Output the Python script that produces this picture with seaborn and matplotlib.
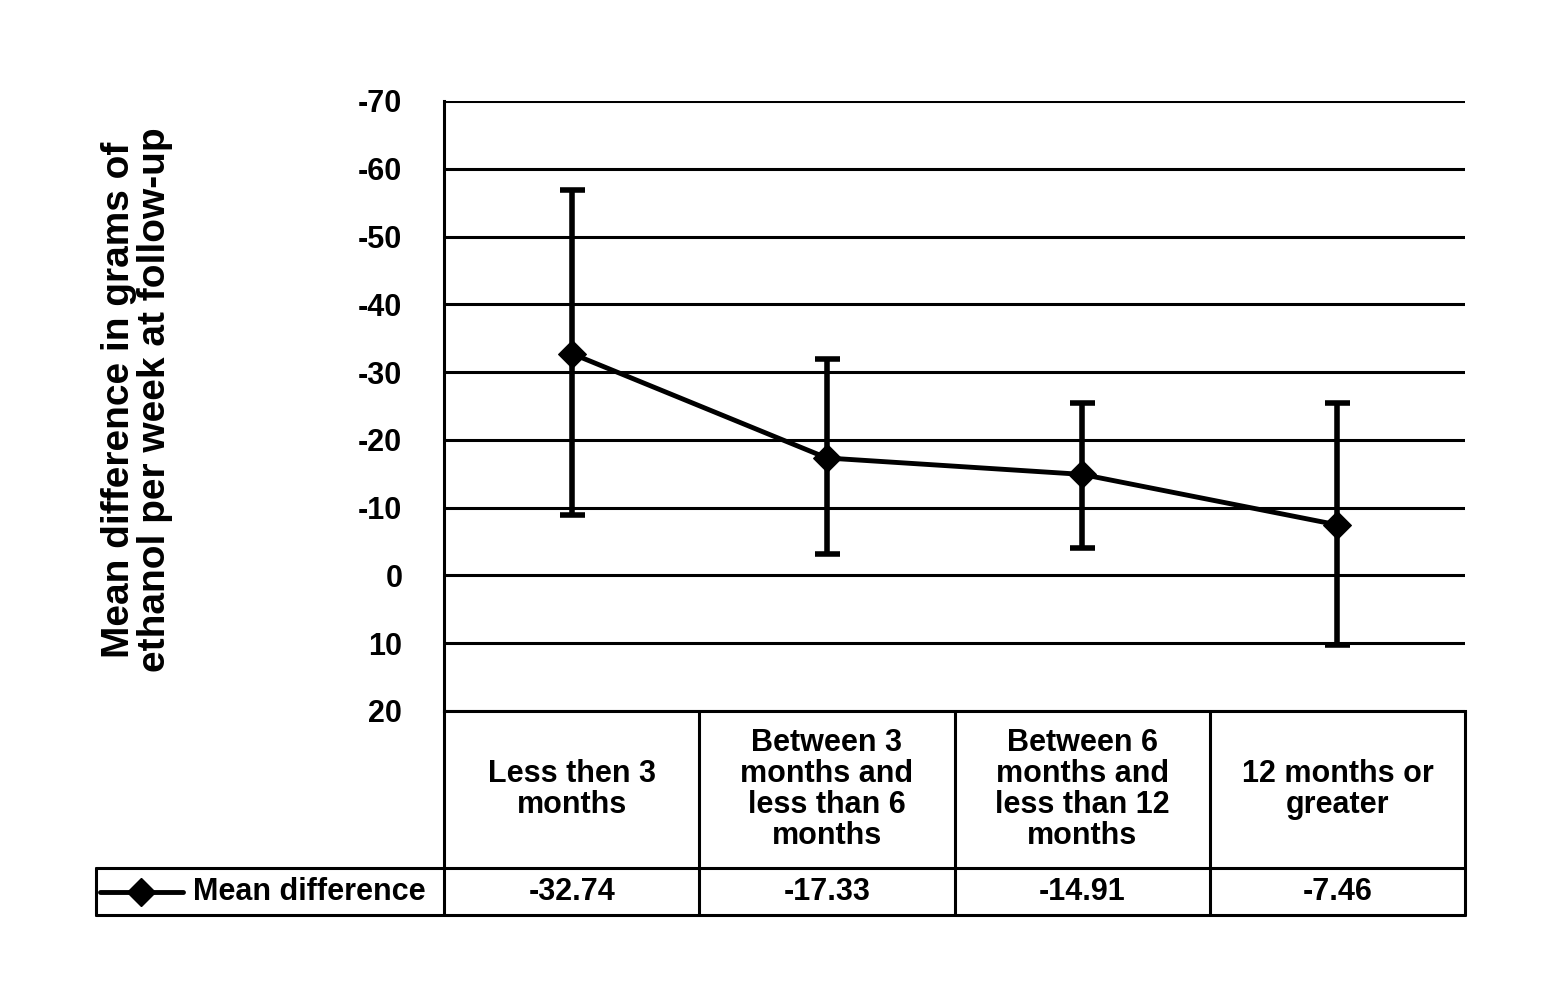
import numpy as np
import matplotlib
matplotlib.use('Agg')
import matplotlib.pyplot as plt
import matplotlib.transforms as mtransforms
import seaborn as sns

categories = ['Less then 3\nmonths',
              'Between 3\nmonths and\nless than 6\nmonths',
              'Between 6\nmonths and\nless than 12\nmonths',
              '12 months or\ngreater']
means = [-32.74, -17.33, -14.91, -7.46]
value_labels = ['-32.74', '-17.33', '-14.91', '-7.46']
ci_upper = [-56.9, -31.9, -25.5, -25.5]   # most negative end (top of bar)
ci_lower = [-8.85, -3.2, -4.0, 10.3]      # least negative end (bottom of bar)
series_name = 'Mean difference'
ylabel = 'Mean difference in grams of\nethanol per week at follow-up'
yticks = list(range(-70, 21, 10))

sns.set_style('white')
plt.rcParams['font.family'] = ['Liberation Sans', 'DejaVu Sans']
plt.rcParams['font.weight'] = 'bold'
plt.rcParams['text.color'] = 'black'
plt.rcParams['ytick.color'] = 'black'
plt.rcParams['axes.labelcolor'] = 'black'

fig = plt.figure(figsize=(15.63, 10), dpi=100)
ax = fig.add_axes([444 / 1563, 289 / 1000, 1021 / 1563, 610 / 1000])

xpos = np.arange(len(means)) + 0.5
means_a = np.array(means)
yerr = [means_a - np.array(ci_upper), np.array(ci_lower) - means_a]

ax.errorbar(xpos, means, yerr=yerr, fmt='none', ecolor='black',
            elinewidth=4, capsize=9, capthick=4, zorder=3)
sns.lineplot(x=xpos, y=means, ax=ax, color='black', lw=3.5, marker='D',
             markersize=14, markeredgecolor='black', zorder=4)

ax.set_xlim(0, 4)
ax.set_ylim(20, -70)
ax.set_yticks(yticks)
ax.set_yticklabels([str(t) for t in yticks])
ax.set_xticks([])
ax.tick_params(axis='y', length=0, pad=30, labelsize=22, labelcolor='black')
ax.yaxis.grid(True, color='black', lw=2.2)
ax.set_axisbelow(True)
for s in ['top', 'right']:
    ax.spines[s].set_visible(False)
for s in ['left', 'bottom']:
    ax.spines[s].set_color('black')
    ax.spines[s].set_linewidth(2.2)

fig.text(0.0877, 0.60, ylabel, rotation=90, fontsize=28, ha='center',
         va='center', linespacing=0.98, fontweight='bold', color='black')

# data table under the plot
trans = mtransforms.blended_transform_factory(ax.transData, ax.transAxes)
row1 = -(868 - 711) / 610
row2 = -(915 - 711) / 610
left = (96 - 444) / 255.25
kw = dict(color='black', lw=2.2, transform=trans, clip_on=False)
for xb in range(5):
    ax.plot([xb, xb], [0, row2], **kw)
ax.plot([left, 4], [row1, row1], **kw)
ax.plot([left, 4], [row2, row2], **kw)
ax.plot([left, left], [row1, row2], **kw)

for x, cat, val in zip(xpos, categories, value_labels):
    ax.text(x, row1 / 2, cat, transform=trans, ha='center', va='center',
            fontsize=22, linespacing=1.05, fontweight='bold', color='black')
    ax.text(x, (row1 + row2) / 2, val, transform=trans, ha='center',
            va='center', fontsize=22, fontweight='bold', color='black')

ymid = (row1 + row2) / 2
ax.plot([(100 - 444) / 255.25, (183 - 444) / 255.25], [ymid, ymid],
        color='black', lw=3.5, transform=trans, clip_on=False)
ax.plot([(141 - 444) / 255.25], [ymid], color='black', marker='D',
        markersize=14, transform=trans, clip_on=False)
ax.text((193 - 444) / 255.25, ymid, series_name, transform=trans,
        ha='left', va='center', fontsize=22, fontweight='bold', color='black')

fig.savefig('out.png', dpi=100)
